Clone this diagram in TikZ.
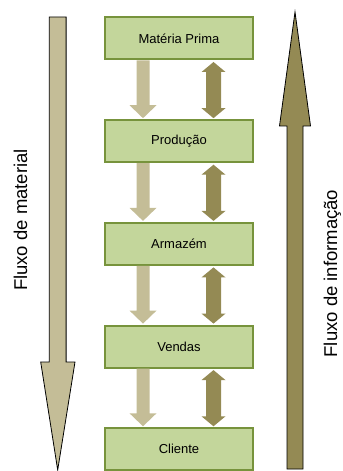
\documentclass[tikz,border=0pt]{standalone}
\usepackage{fontspec}
\setmainfont{Liberation Sans}
\usetikzlibrary{calc}

\definecolor{boxfill}{HTML}{C3D69B}
\definecolor{boxline}{HTML}{77933C}
\definecolor{matcol}{HTML}{C4BD97}
\definecolor{infocol}{HTML}{948A54}

\tikzset{
  stage/.style={draw=boxline, fill=boxfill, line width=2bp,
    minimum width=148bp, minimum height=42bp, inner sep=0pt,
    font=\fontsize{13bp}{15bp}\selectfont},
  sidelabel/.style={rotate=90, anchor=base, inner sep=0pt,
    font=\fontsize{18.5bp}{21bp}\selectfont},
  matshape/.style={fill=matcol},
  infoshape/.style={fill=infocol},
  bigmat/.style={fill=matcol, draw=black, line width=0.8bp, line join=miter},
  biginfo/.style={fill=infocol, draw=black, line width=0.8bp, line join=miter},
}

% material flow: single block arrow pointing down between two stages
\newcommand\matflow[2]{%
  \fill[matshape] let \p1=(#1.south), \p2=(#2.north) in
    (\x1-42.5bp,\y1) -- (\x1-29.5bp,\y1) -- (\x1-29.5bp,\y2+14bp)
    -- (\x1-22.5bp,\y2+14bp) -- (\x1-36bp,\y2+1bp) -- (\x1-49.5bp,\y2+14bp)
    -- (\x1-42.5bp,\y2+14bp) -- cycle;}
% information flow: double block arrow between two stages
\newcommand\infoflow[2]{%
  \fill[infoshape] let \p1=(#1.south), \p2=(#2.north) in
    (\x1+34.5bp,\y1-1.5bp) -- (\x1+46.5bp,\y1-11.5bp) -- (\x1+42bp,\y1-11.5bp)
    -- (\x1+42bp,\y2+11bp) -- (\x1+46.5bp,\y2+11bp) -- (\x1+34.5bp,\y2+1bp)
    -- (\x1+22.5bp,\y2+11bp) -- (\x1+27bp,\y2+11bp) -- (\x1+27bp,\y1-11.5bp)
    -- (\x1+22.5bp,\y1-11.5bp) -- cycle;}

\begin{document}
\begin{tikzpicture}[x=1bp, y=-1bp]
  \useasboundingbox (0,0) rectangle (342,471);

  % supply chain stages
  \node[stage] (mp) at (179,38.5)  {Matéria Prima};
  \node[stage] (pr) at (179,141.2) {Produção};
  \node[stage] (ar) at (179,243.9) {Armazém};
  \node[stage] (ve) at (179,346.6) {Vendas};
  \node[stage] (cl) at (179,449.3) {Cliente};

  % flows between neighbouring stages
  \matflow{mp}{pr}
  \matflow{pr}{ar}
  \matflow{ar}{ve}
  \matflow{ve}{cl}
  \infoflow{mp}{pr}
  \infoflow{pr}{ar}
  \infoflow{ar}{ve}
  \infoflow{ve}{cl}

  % overall material flow, downwards
  \coordinate (mattop) at (57.7,17);
  \coordinate (mattip) at (57.7,470);
  \draw[bigmat] let \p1=(mattop), \p2=(mattip) in
    (\x1-8.4bp,\y1) -- (\x1+8.4bp,\y1) -- (\x1+8.4bp,\y2+108bp)
    -- (\x1+17.3bp,\y2+108bp) -- (\x2,\y2) -- (\x1-17bp,\y2+108bp)
    -- (\x1-8.4bp,\y2+108bp) -- cycle;
  \node[sidelabel] (matlbl) at (27,220) {Fluxo de material};

  % overall information flow, upwards
  \coordinate (infotip) at (295,12);
  \coordinate (infobot) at (295,469);
  \draw[biginfo] let \p1=(infotip), \p2=(infobot) in
    (\x2-8bp,\y2) -- (\x2+8bp,\y2) -- (\x2+8bp,\y1-114bp)
    -- (\x2+15.5bp,\y1-114bp) -- (\x1,\y1) -- (\x2-15.5bp,\y1-114bp)
    -- (\x2-8bp,\y1-114bp) -- cycle;
  \node[sidelabel] (infolbl) at (337,273.5) {Fluxo de informação};
\end{tikzpicture}
\end{document}
